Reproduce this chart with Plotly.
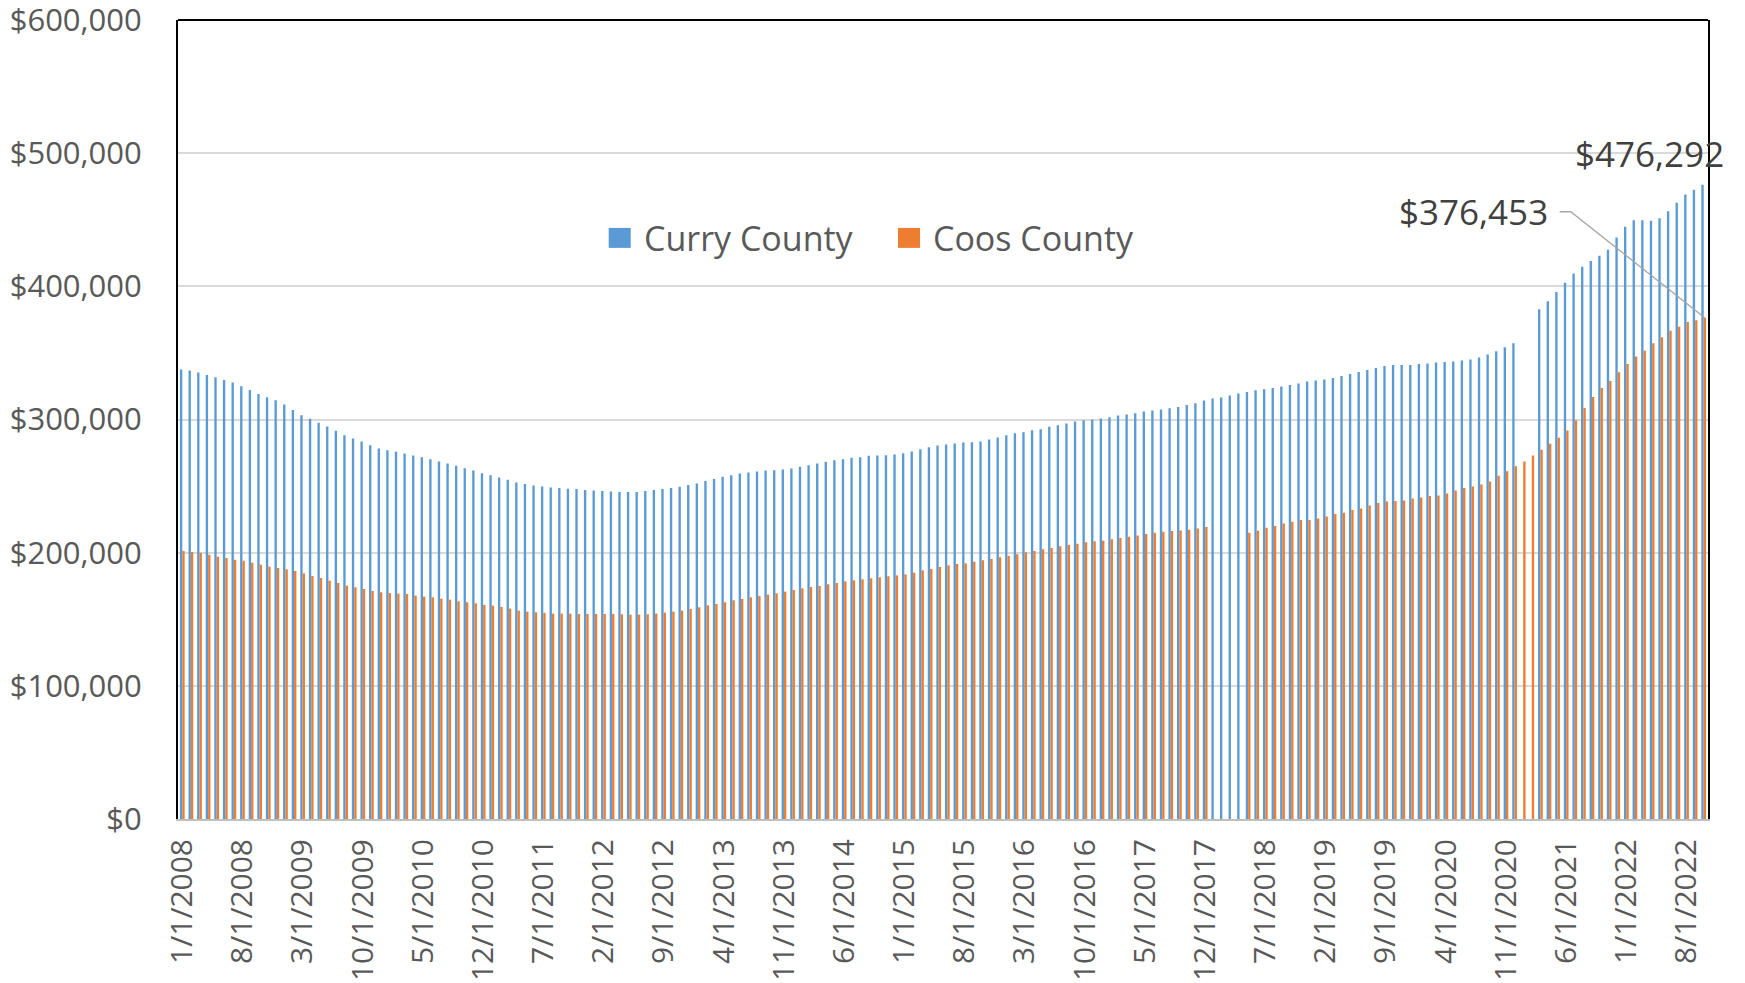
import pandas as pd
import plotly.graph_objects as go

# monthly categories, 1/1/2008 .. 10/1/2022
months = [f"{d.month}/1/{d.year}" for d in pd.date_range("2008-01-01", "2022-10-01", freq="MS")]

curry = [
    337500, 336750, 335250, 333500, 331750, 329750, 327750, 325000, 322250, 319250,
    316750, 314500, 311250, 307250, 303250, 300500, 297500, 294750, 291500, 288250,
    285750, 283500, 280750, 278250, 277000, 275750, 274500, 273000, 271750, 270250,
    268500, 267000, 265250, 263500, 261750, 259750, 258250, 256500, 254750, 252750,
    251500, 250500, 249750, 249000, 248500, 248000, 247750, 247000, 246750, 246250,
    246000, 245500, 245500, 245500, 246250, 247000, 247750, 248500, 249500, 250750,
    252000, 253750, 255250, 257000, 258250, 259500, 260250, 261000, 261750, 262000,
    262500, 263250, 264500, 265750, 267000, 268250, 269500, 270250, 271250, 271750,
    272750, 273000, 273250, 273750, 274750, 276000, 277750, 279250, 280500, 281250,
    282000, 282750, 283000, 283500, 285000, 286500, 288250, 289750, 290500, 292000,
    292750, 294500, 295750, 297000, 298500, 299500, 300000, 300750, 301750, 303000,
    303750, 304750, 306000, 306750, 307500, 308500, 309500, 311000, 312250, 314250,
    315750, 316500, 318000, 319500, 320750, 322000, 322750, 323750, 324750, 326000,
    327000, 328500, 329250, 330000, 331250, 332750, 334250, 335750, 337250, 338750,
    340250, 341000, 341000, 341000, 341750, 342000, 342750, 343250, 343500, 344250,
    345000, 346500, 348750, 351250, 354250, 357250, None, None, 382750, 388750,
    395750, 402750, 409750, 414750, 419000, 423000, 427500, 436750, 444750, 449750,
    449750, 449250, 451250, 456500, 462750, 469000, 472500, 476292,
]

coos = [
    201250, 200500, 200000, 198500, 197000, 196000, 194750, 194000, 192500, 191000,
    189500, 188500, 187500, 186250, 184500, 182500, 181000, 179000, 177250, 175250,
    174000, 172750, 171250, 170250, 169750, 169250, 169000, 167750, 167000, 166500,
    165500, 164750, 163500, 162750, 162000, 160750, 160250, 159250, 158000, 156500,
    155750, 155250, 154750, 154250, 154250, 154250, 154000, 154000, 154000, 154000,
    154000, 153750, 153500, 153500, 153750, 154250, 155000, 155750, 156500, 157750,
    159000, 160500, 161500, 162750, 164250, 165250, 166500, 167500, 168500, 169500,
    170750, 172000, 173250, 174250, 175000, 176250, 177250, 178500, 179250, 180000,
    180750, 181500, 182250, 183000, 183750, 185000, 186750, 187750, 189250, 190500,
    191500, 192000, 193250, 194250, 195250, 196500, 197500, 198750, 200250, 201250,
    202500, 203500, 204750, 205750, 206750, 207750, 208500, 209000, 210000, 211000,
    212000, 213000, 214000, 215000, 215750, 216250, 216750, 217250, 218250, 219250,
    None, None, None, None, 215000, 216500, 218750, 220000, 222000, 223250,
    224500, 224500, 225750, 227250, 229000, 230000, 232000, 233250, 235500, 237250,
    238500, 238750, 239250, 240750, 241500, 242500, 243000, 244500, 246750, 248500,
    249750, 251250, 253500, 257750, 261250, 265000, 268500, 273000, 277250, 281750,
    286250, 291750, 299500, 308750, 317000, 323750, 329000, 335500, 341750, 347250,
    351750, 357250, 361750, 366750, 369750, 373250, 374500, 376453,
]

tick_labels = months[::7]
y_ticks = [0, 100000, 200000, 300000, 400000, 500000, 600000]

font = "Open Sans, Arial, sans-serif"
grey = "#595959"
blue = "#5b9bd5"
orange = "#ed7d31"

fig = go.Figure()
fig.add_trace(go.Bar(x=months, y=curry, name="Curry County", marker=dict(color=blue, line=dict(width=0))))
fig.add_trace(go.Bar(x=months, y=coos, name="Coos County", marker=dict(color=orange, line=dict(width=0))))

# value labels on the last month
last = months[-1]
fig.add_annotation(x=last, y=curry[-1], text=f"${curry[-1]:,}", showarrow=False,
                   xshift=-54, yshift=31, font=dict(size=35, color="#404040", family=font))
fig.add_annotation(x=last, y=coos[-1], text=f"${coos[-1]:,}", showarrow=False,
                   xshift=-230, yshift=106, font=dict(size=35, color="#404040", family=font))
# leader line for the Coos label
fig.add_shape(type="path", xref="x", yref="y", xsizemode="pixel", ysizemode="pixel",
              xanchor=len(months) - 1, yanchor=coos[-1],
              path="M 1,0 L -133,106 L -144,106",
              line=dict(color="#a6a6a6", width=1.3))
# top border of plot area
fig.add_shape(type="line", xref="paper", yref="paper", x0=0, x1=1, y0=1, y1=1,
              line=dict(color="black", width=2))

# legend drawn by hand so the keys can be as large as in the original
legend_items = [("Curry County", blue, 0.2815, 0.3031), ("Coos County", orange, 0.4706, 0.4922)]
for label, color, sx, tx in legend_items:
    fig.add_shape(type="rect", xref="paper", yref="paper", x0=sx, x1=sx + 0.0144,
                  y0=0.7148, y1=0.7398, fillcolor=color, line=dict(width=0))
    fig.add_annotation(xref="paper", yref="paper", x=tx, y=0.7273, xanchor="left", yanchor="middle",
                       text=label, showarrow=False, font=dict(size=34, color=grey, family=font))

# the page body adds an 8px offset, so the figure is 8px smaller than the window
fig.update_layout(
    width=1737, height=975,
    barmode="group", bargap=0.45, bargroupgap=0.0,
    plot_bgcolor="white", paper_bgcolor="white",
    margin=dict(l=170, r=37, t=12, b=164),
    font=dict(family=font, color=grey),
    showlegend=False,
)
fig.update_xaxes(
    type="category", tickmode="array", tickvals=tick_labels, ticktext=tick_labels,
    tickangle=-90, tickfont=dict(size=30, color=grey, family=font),
    showgrid=False, showline=True, linecolor="#bfbfbf", linewidth=2,
    ticks="", ticklabelstandoff=6, range=[-0.5, len(months) - 0.5],
    automargin=False,
)
fig.update_yaxes(
    range=[0, 600050], tickmode="array", tickvals=y_ticks,
    ticktext=[f"${v:,}" for v in y_ticks],
    tickfont=dict(size=31, color=grey, family=font),
    showgrid=True, gridcolor="#d9d9d9", gridwidth=2,
    showline=True, linecolor="black", linewidth=2, mirror=True,
    zeroline=False, ticks="", ticklabelstandoff=28, automargin=False,
    ticklabeloverflow="allow",
)

fig.write_html("out.html")
